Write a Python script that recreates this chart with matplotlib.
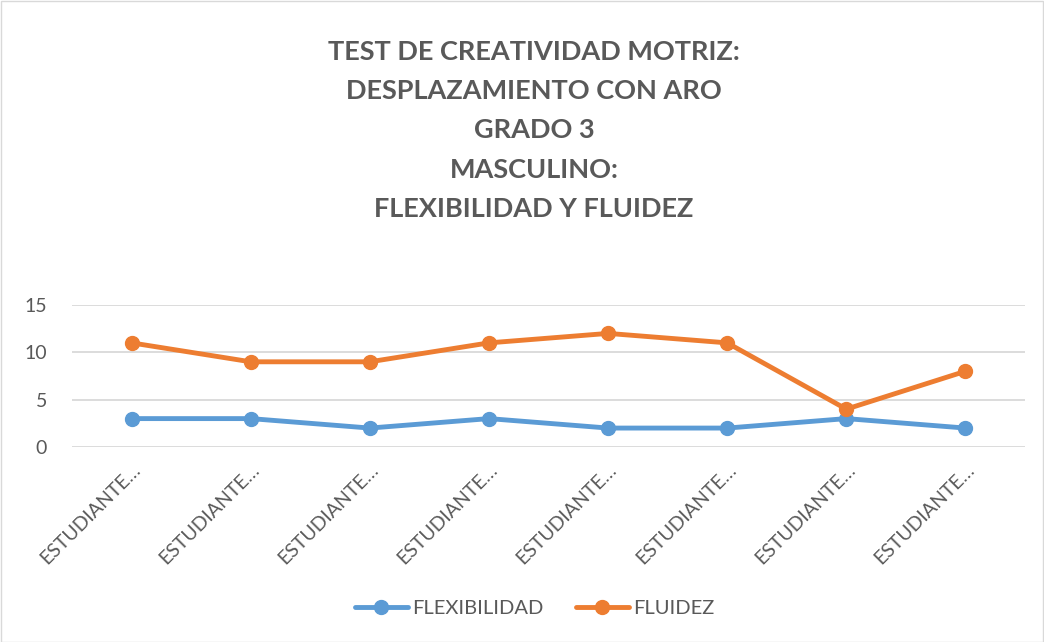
import matplotlib.pyplot as plt
from matplotlib.patches import Rectangle

categorias = ["ESTUDIANTE…"] * 8
flexibilidad = [3, 3, 2, 3, 2, 2, 3, 2]
fluidez = [11, 9, 9, 11, 12, 11, 4, 8]

gris = '#595959'
plt.rcParams['font.family'] = ['Lato', 'DejaVu Sans']

fig = plt.figure(figsize=(10.44, 6.42), dpi=100)
ax = fig.add_axes([72 / 1044, 1 - 447 / 642, (1025 - 72) / 1044, (447 - 305) / 642])

x = range(len(categorias))
ax.plot(x, flexibilidad, color='#5B9BD5', lw=3.5, marker='o', ms=10, label='FLEXIBILIDAD',
        solid_capstyle='round')
ax.plot(x, fluidez, color='#ED7D31', lw=3.5, marker='o', ms=10, label='FLUIDEZ',
        solid_capstyle='round')

ax.set_xlim(-0.5, len(categorias) - 0.5)
ax.set_ylim(0, 15)
ax.set_yticks([0, 5, 10, 15])
ax.set_xticks(list(x))
ax.set_xticklabels(categorias, rotation=45, ha='right', rotation_mode='anchor')
ax.tick_params(axis='both', length=0, labelsize=14, colors=gris)
ax.tick_params(axis='x', pad=10)
ax.tick_params(axis='y', pad=18)
ax.grid(axis='y', color='#D9D9D9', lw=1.3)
ax.set_axisbelow(True)
for s in ax.spines.values():
    s.set_visible(False)

fig.text(534 / 1044, 1 - 40 / 642,
         "TEST DE CREATIVIDAD MOTRIZ:\nDESPLAZAMIENTO CON ARO\nGRADO 3\nMASCULINO:\nFLEXIBILIDAD Y FLUIDEZ",
         ha='center', va='top', fontsize=19.5, fontweight='bold', color=gris, linespacing=1.76)

ax.legend(loc='center', bbox_to_anchor=(535 / 1044, 1 - 608 / 642), bbox_transform=fig.transFigure,
          ncol=2, frameon=False, fontsize=14.5, labelcolor=gris, handlelength=2.6,
          columnspacing=1.6, handletextpad=0.25)

fig.patches.append(Rectangle((0.5 / 1044, 0.5 / 642), 1 - 1.5 / 1044, 1 - 1.5 / 642,
                             transform=fig.transFigure, fill=False, ec='#D9D9D9', lw=1))

fig.savefig('out.png', dpi=100)
